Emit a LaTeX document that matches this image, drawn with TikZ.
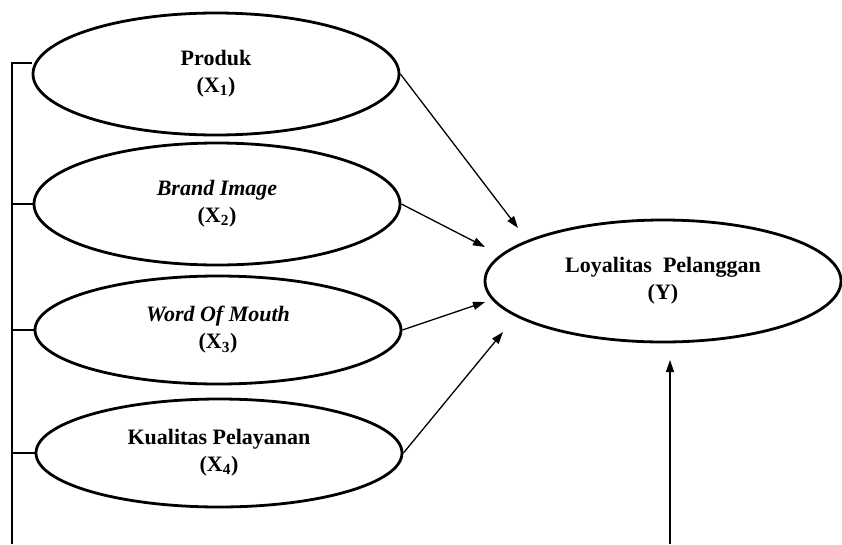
\documentclass[tikz,border=0pt]{standalone}
\usepackage{fontspec}
\setmainfont{Liberation Serif}
\usetikzlibrary{shapes.geometric,arrows.meta}
\begin{document}
\begin{tikzpicture}[x=1pt,y=-1pt,
  var/.style={ellipse, draw, line width=2.8pt, fill=white, inner sep=0pt,
    minimum width=366pt, align=center,
    font=\fontsize{22}{27}\selectfont\bfseries},
  conn/.style={line width=1.3pt, -{Triangle[length=12pt,width=8pt]}},
  brk/.style={line width=1.5pt}]
\useasboundingbox (0,0) rectangle (842,544);
% independent variables
\node[var, minimum height=122pt] (x1) at (216,74) {Produk\\(X\textsubscript{1})};
\node[var, minimum height=122pt] (x2) at (217,204) {\textit{Brand Image}\\(X\textsubscript{2})};
\node[var, minimum height=108pt] (x3) at (218,330) {\textit{Word Of Mouth}\\(X\textsubscript{3})};
\node[var, minimum height=108pt] (x4) at (219,453) {Kualitas Pelayanan\\(X\textsubscript{4})};
% dependent variable
\node[var, minimum width=356pt, minimum height=122pt] (y) at (663,281) {Loyalitas\ \ Pelanggan\\(Y)};
% arrow tips
\coordinate (t1) at (518,228);
\coordinate (t2) at (485,247);
\coordinate (t3) at (485,302);
\coordinate (t4) at (503,332);
\coordinate (t5) at (670,360);
\coordinate (e0) at (670,544);
\draw[conn] (x1.east) -- (t1);
\draw[conn] (x2.east) -- (t2);
\draw[conn] (x3.east) -- (t3);
\draw[conn] (x4.east) -- (t4);
\draw[conn] (e0) -- (t5);
% bracket
\coordinate (b1) at (12,63);
\coordinate (b0) at (12,544);
\draw[brk] (b1 -| x1.west) -- (b1) -- (b0);
\draw[brk] (x2.west) -- (x2.west -| b1);
\draw[brk] (x3.west) -- (x3.west -| b1);
\draw[brk] (x4.west) -- (x4.west -| b1);
\end{tikzpicture}
\end{document}
